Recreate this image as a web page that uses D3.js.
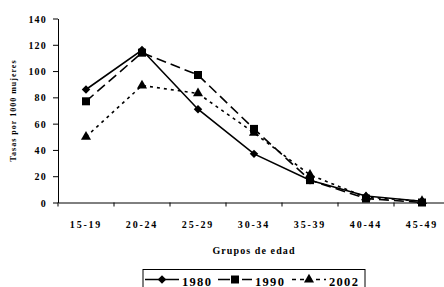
<html>
<head>
<script src="https://cdn.jsdelivr.net/npm/d3@7"></script>
<style>
  body { margin: 0; background: #fff; }
  text { font-family: "Liberation Serif", "Times New Roman", serif; font-weight: bold; }
</style>
</head>
<body>
<script>
  // data
  const groups = ["15-19", "20-24", "25-29", "30-34", "35-39", "40-44", "45-49"];
  const yTicks = [0, 20, 40, 60, 80, 100, 120, 140];
  const v1980 = [86, 116, 71, 37, 17, 5, 1];
  const v1990 = [77, 114, 97, 56, 17, 3, 0];
  const v2002 = [50, 89, 83, 53, 21, 4, 1];

  const width = 444, height = 287;
  const mLeft = 58, mRight = 450, mTop = 18.5, mBottom = 202.5;

  const svg = d3.select("body").append("svg")
    .attr("width", width).attr("height", height);

  const x = d3.scaleBand().domain(groups).range([mLeft, mRight]);
  const y = d3.scaleLinear().domain([0, 140]).range([mBottom, mTop]);

  // y axis
  const yAxis = svg.append("g").attr("transform", `translate(${mLeft},0)`)
    .call(d3.axisLeft(y).tickValues(yTicks).tickSize(5).tickSizeOuter(0).tickPadding(6));
  yAxis.select(".domain").attr("stroke", "#000").attr("stroke-width", 1);
  yAxis.selectAll(".tick line").attr("stroke", "#000");
  yAxis.selectAll("text").attr("font-size", 10).attr("font-family", "Liberation Serif")
    .attr("font-weight", "bold").attr("letter-spacing", 1.2).attr("dy", "0.36em");

  // x axis
  const xAxis = svg.append("g").attr("transform", `translate(0,${mBottom})`)
    .call(d3.axisBottom(x).tickSize(0).tickPadding(18));
  xAxis.select(".domain").attr("stroke", "#000").attr("stroke-width", 1);
  xAxis.selectAll("text").attr("font-size", 10).attr("font-family", "Liberation Serif")
    .attr("font-weight", "bold").attr("letter-spacing", 1.8);
  // tick marks between categories
  svg.append("g").selectAll("line")
    .data(groups)
    .join("line")
    .attr("x1", d => x(d)).attr("x2", d => x(d))
    .attr("y1", mBottom).attr("y2", mBottom + 4)
    .attr("stroke", "#000");

  // axis titles
  svg.append("text")
    .attr("x", 254).attr("y", 254)
    .attr("text-anchor", "middle").attr("font-size", 10).attr("letter-spacing", 1.1)
    .text("Grupos de edad");
  svg.append("text")
    .attr("transform", `translate(16,${(mTop + mBottom) / 2}) rotate(-90)`)
    .attr("text-anchor", "middle").attr("font-size", 8).attr("letter-spacing", 1)
    .text("Tasas por 1000 mujeres");

  const line = d3.line()
    .x((d, i) => x(groups[i]) + x.bandwidth() / 2)
    .y(d => y(d));

  const diamond = d3.symbolSquare;
  const series = [
    { name: "1980", values: v1980, dash: null, marker: diamond, size: 36, rot: 45 },
    { name: "1990", values: v1990, dash: "10,5", marker: d3.symbolSquare, size: 64, rot: 0 },
    { name: "2002", values: v2002, dash: "3,4", marker: d3.symbolTriangle, size: 44, rot: 0 }
  ];

  series.forEach(s => {
    svg.append("path")
      .attr("d", line(s.values))
      .attr("fill", "none")
      .attr("stroke", "#000")
      .attr("stroke-width", 1.6)
      .attr("stroke-dasharray", s.dash);
    svg.append("g").selectAll("path")
      .data(s.values)
      .join("path")
      .attr("transform", (d, i) => `translate(${x(groups[i]) + x.bandwidth() / 2},${y(d)}) rotate(${s.rot})`)
      .attr("d", d3.symbol().type(s.marker).size(s.size))
      .attr("fill", "#000");
  });

  // legend
  const lg = svg.append("g");
  lg.append("rect")
    .attr("x", 143).attr("y", 269.5).attr("width", 222).attr("height", 22)
    .attr("fill", "#fff").attr("stroke", "#000");
  const lx = [145, 218, 292];
  const legDash = [null, "12,4,4,4", "4,4"];
  series.forEach((s, i) => {
    lg.append("line")
      .attr("x1", lx[i]).attr("x2", lx[i] + 34)
      .attr("y1", 279.5).attr("y2", 279.5)
      .attr("stroke", "#000").attr("stroke-width", 1.6)
      .attr("stroke-dasharray", legDash[i]);
    lg.append("path")
      .attr("transform", `translate(${lx[i] + 17},279.5) rotate(${s.rot})`)
      .attr("d", d3.symbol().type(s.marker).size(s.size))
      .attr("fill", "#000");
    lg.append("text")
      .attr("x", lx[i] + 37).attr("y", 285.5)
      .attr("font-size", 12.5).attr("letter-spacing", 1.3)
      .text(s.name);
  });
</script>
</body>
</html>
